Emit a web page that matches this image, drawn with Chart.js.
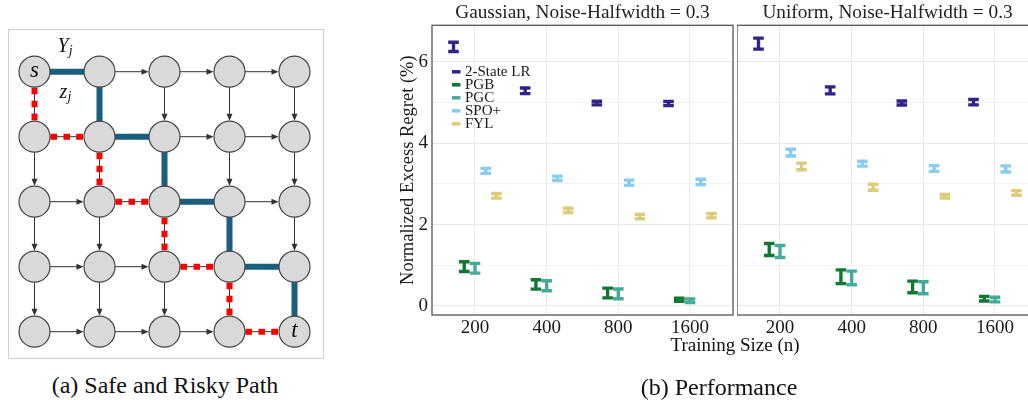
<!DOCTYPE html>
<html><head><meta charset="utf-8">
<script src="https://cdn.jsdelivr.net/npm/chart.js@4.4.1/dist/chart.umd.min.js"></script>
<style>
html,body{margin:0;padding:0;background:#fff;}
body{width:1028px;height:400px;overflow:hidden;position:relative;font-family:"Liberation Serif","Times New Roman",Times,"DejaVu Serif",serif;color:#111;}
.abs{position:absolute;}
#box{left:8px;top:29px;width:316px;height:330px;border:1px solid #cfcfcf;box-sizing:border-box;}
.cap{position:absolute;text-align:center;white-space:nowrap;color:#111;}
</style></head><body>
<div id="box" class="abs"></div>
<canvas id="graph" class="abs" width="316" height="330" style="left:8px;top:29px"></canvas>
<canvas id="gauss" class="abs" width="350" height="360" style="left:385px;top:0px"></canvas>
<canvas id="unif" class="abs" width="303" height="360" style="left:737px;top:0px"></canvas>
<div class="cap" style="left:585px;top:334px;width:300px;font-size:19px;line-height:22px">Training Size (n)</div>
<div class="cap" style="left:0px;top:371px;width:330px;font-size:24px;line-height:28px">(a) Safe and Risky Path</div>
<div class="cap" style="left:569px;top:373px;width:300px;font-size:24px;line-height:28px">(b) Performance</div>
<script>
// ---------- data ----------
const sizeLabels = ['200', '400', '800', '1600'];
const methodNames = ['2-State LR', 'PGB', 'PGC', 'SPO+', 'FYL'];
const methodColors = ['#332288', '#117733', '#44AA99', '#88CCEE', '#DDCC77'];
const dodgeOffsets = [-0.3, -0.15, 0, 0.15, 0.3];
const yTickValues = [0, 1, 2, 3, 4, 5, 6];

// Gaussian, Noise-Halfwidth = 0.3 (mean, half-width of error bar)
const gaussLR = [6.37, 5.29, 4.99, 4.98];
const gaussLRErr = [0.114, 0.07, 0.045, 0.05];
const gaussPGB = [0.97, 0.53, 0.32, 0.155];
const gaussPGBErr = [0.12, 0.115, 0.12, 0.037];
const gaussPGC = [0.93, 0.50, 0.30, 0.13];
const gaussPGCErr = [0.12, 0.123, 0.12, 0.045];
const gaussSPO = [3.32, 3.14, 3.03, 3.05];
const gaussSPOErr = [0.06, 0.053, 0.065, 0.065];
const gaussFYL = [2.71, 2.35, 2.20, 2.22];
const gaussFYLErr = [0.057, 0.053, 0.053, 0.053];

// Uniform, Noise-Halfwidth = 0.3
const unifLR = [6.45, 5.30, 4.99, 5.01];
const unifLRErr = [0.135, 0.086, 0.05, 0.065];
const unifPGB = [1.39, 0.72, 0.47, 0.18];
const unifPGBErr = [0.147, 0.168, 0.143, 0.057];
const unifPGC = [1.34, 0.69, 0.45, 0.16];
const unifPGCErr = [0.147, 0.168, 0.147, 0.057];
const unifSPO = [3.77, 3.50, 3.38, 3.37];
const unifSPOErr = [0.082, 0.06, 0.07, 0.074];
const unifFYL = [3.43, 2.92, 2.70, 2.78];
const unifFYLErr = [0.082, 0.074, 0.045, 0.057];

// Grid graph (a)
const gridCols = [0, 1, 2, 3, 4];
const gridRows = [0, 1, 2, 3, 4];
const safePathCols = [0, 1, 1, 2, 2, 3, 3, 4, 4];
const safePathRows = [0, 0, 1, 1, 2, 2, 3, 3, 4];
const riskyPathCols = [0, 0, 1, 1, 2, 2, 3, 3, 4];
const riskyPathRows = [0, 1, 1, 2, 2, 3, 3, 4, 4];

const SERIF = '"Liberation Serif", "Times New Roman", Times, "DejaVu Serif", serif';

// ---------- graph (a) ----------
const nodeRadius = 15.5;
const arrowPlugin = {
  id: 'arrows',
  beforeDatasetsDraw(chart) {
    const {ctx, scales: {x, y}} = chart;
    ctx.save();
    ctx.strokeStyle = '#333'; ctx.fillStyle = '#333'; ctx.lineWidth = 1;
    const arrow = (x1, y1, x2, y2) => {
      const dx = x2 - x1, dy = y2 - y1, L = Math.hypot(dx, dy), ux = dx / L, uy = dy / L;
      const sx = x1 + ux * nodeRadius, sy = y1 + uy * nodeRadius;
      const ex = x2 - ux * (nodeRadius + 0.5), ey = y2 - uy * (nodeRadius + 0.5);
      ctx.beginPath(); ctx.moveTo(sx, sy); ctx.lineTo(ex - ux * 5, ey - uy * 5); ctx.stroke();
      ctx.beginPath(); ctx.moveTo(ex, ey);
      ctx.lineTo(ex - ux * 7 - uy * 3, ey - uy * 7 + ux * 3);
      ctx.lineTo(ex - ux * 7 + uy * 3, ey - uy * 7 - ux * 3);
      ctx.closePath(); ctx.fill();
    };
    gridRows.forEach((r, ri) => gridCols.forEach((c, ci) => {
      if (ci < gridCols.length - 1)
        arrow(x.getPixelForValue(c), y.getPixelForValue(r), x.getPixelForValue(gridCols[ci + 1]), y.getPixelForValue(r));
      if (ri < gridRows.length - 1)
        arrow(x.getPixelForValue(c), y.getPixelForValue(r), x.getPixelForValue(c), y.getPixelForValue(gridRows[ri + 1]));
    }));
    ctx.restore();
  }
};
const graphLabelPlugin = {
  id: 'graphLabels',
  afterDatasetsDraw(chart) {
    const {ctx, scales: {x, y}} = chart;
    ctx.save();
    ctx.fillStyle = '#111';
    ctx.textAlign = 'center'; ctx.textBaseline = 'middle';
    ctx.font = 'italic 23px ' + SERIF;
    ctx.fillText('s', x.getPixelForValue(gridCols[0]), y.getPixelForValue(gridRows[0]) - 1);
    ctx.fillText('t', x.getPixelForValue(gridCols[4]), y.getPixelForValue(gridRows[4]) - 1);
    const sub = (main, s, cx, cy) => {
      ctx.textAlign = 'right'; ctx.font = 'italic 20px ' + SERIF;
      ctx.fillText(main, cx + 3, cy);
      ctx.textAlign = 'left'; ctx.font = 'italic 14px ' + SERIF;
      ctx.fillText(s, cx + 3, cy + 5);
    };
    sub('Y', 'j', x.getPixelForValue(0.48), y.getPixelForValue(-0.385));
    sub('z', 'j', x.getPixelForValue(0.46), y.getPixelForValue(0.32));
    ctx.restore();
  }
};
const nodeData = [];
gridRows.forEach(r => gridCols.forEach(c => nodeData.push({x: c, y: r})));
new Chart(document.getElementById('graph'), {
  type: 'scatter',
  data: {
    datasets: [
      {label: 'nodes', data: nodeData, order: 0, pointRadius: nodeRadius, pointHoverRadius: nodeRadius,
       pointBackgroundColor: '#d9d9d9', pointBorderColor: '#444', pointBorderWidth: 1.2},
      {label: 'safe', data: safePathCols.map((c, i) => ({x: c, y: safePathRows[i]})), order: 1,
       showLine: true, borderColor: '#1b5f7e', borderWidth: 6, pointRadius: 0, borderCapStyle: 'butt', tension: 0},
      {label: 'risky', data: riskyPathCols.map((c, i) => ({x: c, y: riskyPathRows[i]})), order: 2,
       showLine: true, borderColor: '#ff0000', borderWidth: 6, pointRadius: 0, borderDash: [6.5, 6.5],
       borderDashOffset: 10, borderCapStyle: 'butt', tension: 0}
    ]
  },
  options: {
    responsive: false, animation: false, events: [],
    layout: {padding: 0, autoPadding: false},
    plugins: {legend: {display: false}, tooltip: {enabled: false}},
    scales: {
      x: {type: 'linear', display: false, min: -0.4077, max: 4.4538},
      y: {type: 'linear', display: false, reverse: true, min: -0.657, max: 4.42}
    }
  },
  plugins: [arrowPlugin, graphLabelPlugin]
});

// ---------- performance (b) ----------
function makeDatasets(means, errs) {
  return methodNames.map((name, k) => ({
    label: name,
    data: means[k].map((m, i) => ({x: i + dodgeOffsets[k], y: m})),
    errs: errs[k],
    backgroundColor: methodColors[k], borderColor: methodColors[k],
    pointRadius: 0, pointHoverRadius: 0
  }));
}
const errorBarPlugin = {
  id: 'errorBars',
  afterDatasetsDraw(chart) {
    const {ctx, chartArea: a, scales: {x, y}} = chart;
    ctx.save();
    ctx.beginPath(); ctx.rect(a.left, a.top, a.width, a.height); ctx.clip();
    chart.data.datasets.forEach(ds => {
      ctx.strokeStyle = ds.borderColor; ctx.lineWidth = 3.4; ctx.lineCap = 'butt';
      ds.data.forEach((p, i) => {
        const px = x.getPixelForValue(p.x);
        const yt = y.getPixelForValue(p.y + ds.errs[i]);
        const yb = y.getPixelForValue(p.y - ds.errs[i]);
        ctx.beginPath();
        ctx.moveTo(px, yt - 1.7); ctx.lineTo(px, yb + 1.7);
        ctx.moveTo(px - 5.3, yt); ctx.lineTo(px + 5.3, yt);
        ctx.moveTo(px - 5.3, yb); ctx.lineTo(px + 5.3, yb);
        ctx.stroke();
      });
    });
    ctx.restore();
  }
};
const panelBoxPlugin = {
  id: 'panelBox',
  afterDraw(chart) {
    const {ctx, chartArea: a} = chart;
    ctx.save(); ctx.strokeStyle = '#555'; ctx.lineWidth = 1.3;
    ctx.strokeRect(a.left, a.top, a.width, a.height); ctx.restore();
  }
};
const insideLegendPlugin = {
  id: 'insideLegend',
  afterDraw(chart) {
    const {ctx, chartArea: a} = chart;
    ctx.save();
    ctx.font = '15px ' + SERIF; ctx.textBaseline = 'middle'; ctx.textAlign = 'left';
    chart.data.datasets.forEach((ds, i) => {
      const cy = a.top + 46.5 + i * 13;
      ctx.fillStyle = ds.backgroundColor;
      ctx.fillRect(a.left + 20, cy - 1.75, 8.5, 3.5);
      ctx.fillStyle = '#1a1a1a';
      ctx.fillText(ds.label, a.left + 33, cy + 0.5);
    });
    ctx.restore();
  }
};
function makeOptions(title, showY) {
  return {
    responsive: false, animation: false, events: [],
    layout: {padding: {left: 0, right: 2, top: 0, bottom: 0}, autoPadding: false},
    plugins: {
      legend: {display: false}, tooltip: {enabled: false},
      title: {display: true, text: title, fullSize: false, color: '#222',
              font: {family: SERIF, size: 19.3, weight: 'normal', lineHeight: 1},
              padding: {top: 3, bottom: 3}}
    },
    scales: {
      x: {
        type: 'linear', min: -0.6, max: 3.6,
        afterBuildTicks: s => { s.ticks = sizeLabels.map((_, i) => ({value: i})); },
        afterFit: s => { s.height = 45; },
        ticks: {callback: v => sizeLabels[v], font: {family: SERIF, size: 19}, color: '#1a1a1a',
                padding: 2, maxRotation: 0, autoSkip: false},
        grid: {color: '#ebebeb', lineWidth: 1.1, drawTicks: false},
        border: {display: false}
      },
      y: {
        type: 'linear', min: -0.22, max: 6.9,
        afterBuildTicks: s => { s.ticks = yTickValues.map(v => ({value: v})); },
        afterFit: s => { s.width = showY ? 47 : 0; },
        ticks: {display: showY, callback: v => (v % 2 === 0 ? String(v) : ''),
                font: {family: SERIF, size: 19}, color: '#1a1a1a', padding: 4},
        grid: {color: c => (c.tick && c.tick.value % 2 ? '#f0f0f0' : '#e8e8e8'),
               lineWidth: c => (c.tick && c.tick.value % 2 ? 0.8 : 1.1), drawTicks: false},
        border: {display: false},
        title: {display: showY, text: 'Normalized Excess Regret (%)', color: '#1a1a1a',
                font: {family: SERIF, size: 18.5}, padding: {top: 12.5, bottom: 0}}
      }
    }
  };
}
new Chart(document.getElementById('gauss'), {
  type: 'scatter',
  data: {datasets: makeDatasets([gaussLR, gaussPGB, gaussPGC, gaussSPO, gaussFYL],
                                [gaussLRErr, gaussPGBErr, gaussPGCErr, gaussSPOErr, gaussFYLErr])},
  options: makeOptions('Gaussian, Noise-Halfwidth = 0.3', true),
  plugins: [errorBarPlugin, panelBoxPlugin, insideLegendPlugin]
});
new Chart(document.getElementById('unif'), {
  type: 'scatter',
  data: {datasets: makeDatasets([unifLR, unifPGB, unifPGC, unifSPO, unifFYL],
                                [unifLRErr, unifPGBErr, unifPGCErr, unifSPOErr, unifFYLErr])},
  options: makeOptions('Uniform, Noise-Halfwidth = 0.3', false),
  plugins: [errorBarPlugin, panelBoxPlugin]
});
</script>
</body></html>
